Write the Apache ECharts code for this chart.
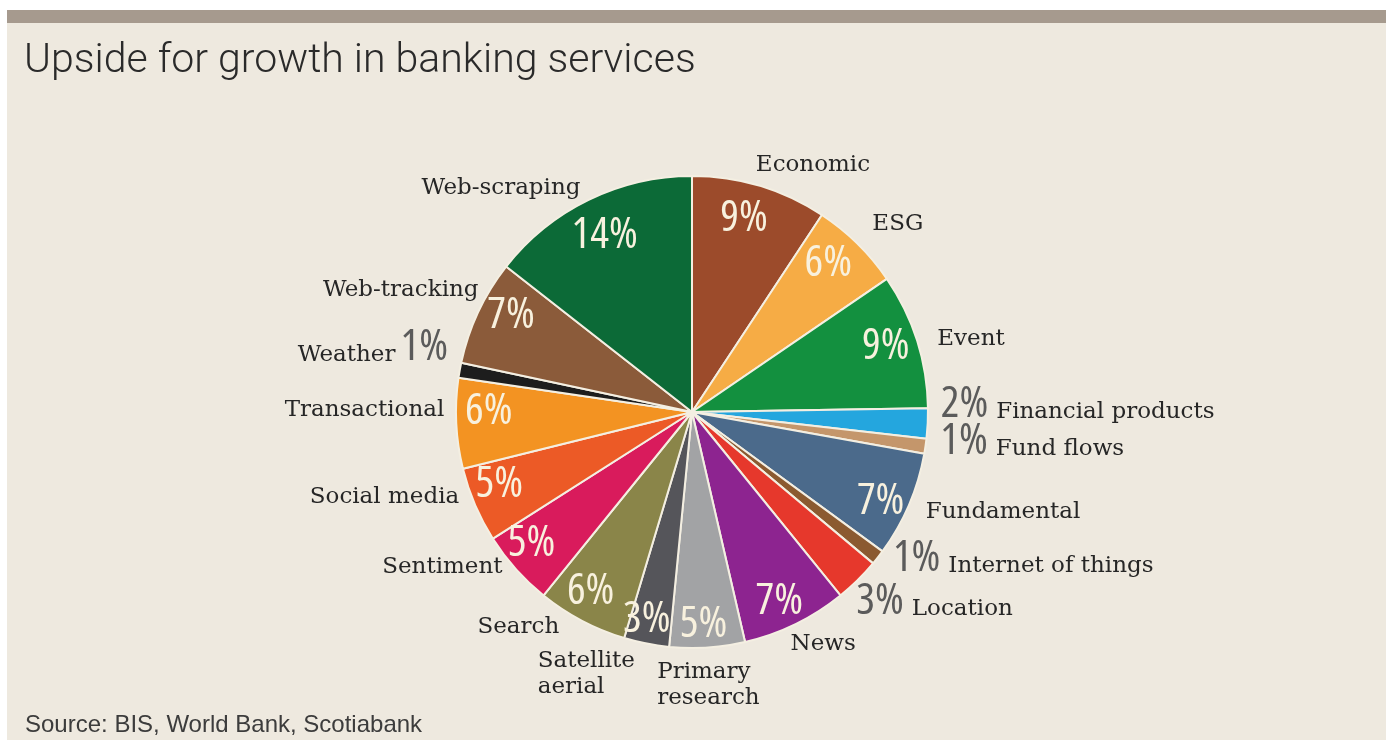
<!DOCTYPE html>
<html>
<head>
<meta charset="utf-8">
<script src="https://cdn.jsdelivr.net/npm/echarts@6/dist/echarts.min.js"></script>
<style>
  html, body { margin: 0; padding: 0; background: #ffffff; }
  #chart { width: 1389px; height: 740px; }
</style>
</head>
<body>
<div id="chart"></div>
<script>
// Data sources and their share of the upside, clockwise from 12 o'clock
const categories = [
  'Economic', 'ESG', 'Event', 'Financial products', 'Fund flows', 'Fundamental',
  'Internet of things', 'Location', 'News', 'Primary research', 'Satellite aerial',
  'Search', 'Sentiment', 'Social media', 'Transactional', 'Weather', 'Web-tracking',
  'Web-scraping'
];
const shares = [9, 6, 9, 2, 1, 7, 1, 3, 7, 5, 3, 6, 5, 5, 6, 1, 7, 14];

// Slice colours, same order as the categories
const sliceColors = [
  '#9c4b2b', '#f6ac45', '#13903f', '#24a6de', '#c4966b', '#4b6a8b',
  '#8b5a30', '#e6382c', '#8d2490', '#a2a3a5', '#55555a',
  '#8a8549', '#d91b5c', '#ec5a26', '#f39322', '#1d1d1d', '#8b5b3a',
  '#0c6a37'
];

// Thin slices whose share is written outside the pie, next to the name
const outsideShare = ['Financial products', 'Fund flows', 'Internet of things', 'Location', 'Weather'];
// Names set on two lines
const nameText = { 'Primary research': 'Primary\nresearch', 'Satellite aerial': 'Satellite\naerial' };

// Small label adjustments (px) for the outer name labels
const nameNudge = {
  'Economic': [-13, -8], 'ESG': [0, -10], 'Event': [2, 3], 'Financial products': [-6, -16],
  'Fund flows': [-4, -3], 'Fundamental': [-1, 2], 'Internet of things': [-1, -4],
  'Location': [-16, 15], 'News': [-16, 7], 'Primary research': [-56, 24],
  'Satellite aerial': [-101, 17], 'Search': [-11, -6], 'Sentiment': [2, -11],
  'Social media': [2, -13], 'Transactional': [7, -14], 'Weather': [7, -16],
  'Web-tracking': [18, -16], 'Web-scraping': [3, 1]
};
// Small label adjustments (px) for the share labels inside the slices
const shareNudge = {
  'Economic': [-8, 6], 'ESG': [-10, 0], 'Event': [-5, -2], 'Fundamental': [-3, 7],
  'News': [-4, 2], 'Primary research': [-2, 4], 'Satellite aerial': [-5, 3],
  'Search': [-4, -5], 'Sentiment': [-5, -7], 'Social media': [-1, -10],
  'Transactional': [5, -11], 'Web-tracking': [8, -8], 'Web-scraping': [4, 11]
};

const CX = 692, CY = 412, R = 236;
const serif = "'DejaVu Serif', 'Liberation Serif', serif";
// condensed cut of Open Sans for the percentages
const narrow = "'Open Sans', 'DejaVu Sans Condensed', sans-serif";

const total = shares.reduce((a, b) => a + b, 0);
let acc = 0;
const onLeft = shares.map(v => { const mid = acc + v / 2; acc += v; return mid / total > 0.5; });

const sliceData = categories.map((name, i) => ({
  name: name,
  value: shares[i],
  itemStyle: { color: sliceColors[i] }
}));

const shareData = categories.map((name, i) => ({
  name: name,
  value: shares[i],
  label: { show: outsideShare.indexOf(name) < 0 }
}));

const chart = echarts.init(document.getElementById('chart'), null, { renderer: 'canvas' });

chart.setOption({
  backgroundColor: '#ffffff',
  animation: false,
  graphic: [
    { type: 'rect', z: -10, silent: true, shape: { x: 7, y: 23, width: 1379, height: 717 }, style: { fill: '#eee9df' } },
    { type: 'rect', z: -10, silent: true, shape: { x: 7, y: 10, width: 1379, height: 13 }, style: { fill: '#a69a8e' } }
  ],
  title: [
    {
      text: 'Upside for growth in banking services',
      left: 19, top: 36,
      textStyle: { fontFamily: 'Roboto', fontWeight: 300, fontSize: 41, color: '#2a2a2a' }
    },
    {
      text: 'Source: BIS, World Bank, Scotiabank',
      left: 20, top: 708,
      textStyle: { fontFamily: "'Liberation Sans', sans-serif", fontWeight: 'normal', fontSize: 24, color: '#3c3c3c' }
    }
  ],
  series: [
    {
      // the slices, with their names outside
      type: 'pie',
      name: 'slices',
      center: [CX, CY],
      radius: [0, R],
      startAngle: 90,
      clockwise: true,
      avoidLabelOverlap: false,
      emphasis: { disabled: true },
      silent: true,
      itemStyle: { borderColor: '#f4efe2', borderWidth: 2 },
      labelLine: { show: false, length: 14, length2: 0 },
      label: {
        show: true,
        position: 'outside',
        distanceToLabelLine: 5,
        fontFamily: serif,
        fontSize: 23,
        lineHeight: 26,
        color: '#262626',
        formatter: function (p) {
          const n = p.name;
          const txt = nameText[n] || n;
          if (outsideShare.indexOf(n) >= 0) {
            return onLeft[p.dataIndex]
              ? '{n|' + txt + '}{pl|' + p.value + '%}'
              : '{pr|' + p.value + '%}{n|' + txt + '}';
          }
          return txt;
        },
        rich: {
          n: { fontFamily: serif, fontSize: 23, color: '#262626', verticalAlign: 'bottom', lineHeight: 36, padding: [0, 0, 3, 0] },
          pr: { fontFamily: narrow, fontStyle: 'condensed', fontSize: 44, color: '#5b5b5b', verticalAlign: 'bottom', lineHeight: 36, padding: [0, 8, 0, 0] },
          pl: { fontFamily: narrow, fontStyle: 'condensed', fontSize: 44, color: '#5b5b5b', verticalAlign: 'bottom', lineHeight: 36, padding: [0, 0, 0, 5] }
        }
      },
      labelLayout: function (p) {
        const n = categories[p.dataIndex];
        const d = nameNudge[n] || [0, 0];
        const out = { dx: d[0], dy: d[1] };
        if (n === 'Satellite aerial') out.align = 'left';
        return out;
      },
      data: sliceData
    },
    {
      // share labels, set in the outer band of each slice
      type: 'pie',
      name: 'shares',
      center: [CX, CY],
      radius: [175, R],
      startAngle: 90,
      clockwise: true,
      avoidLabelOverlap: false,
      emphasis: { disabled: true },
      silent: true,
      z: 3,
      itemStyle: { color: 'rgba(0,0,0,0)', borderWidth: 0 },
      labelLine: { show: false },
      label: {
        show: true,
        position: 'inside',
        formatter: '{c}%',
        fontFamily: narrow,
        fontStyle: 'condensed',
        fontSize: 44,
        color: '#f8f1de',
        textBorderWidth: 0
      },
      labelLayout: function (p) {
        const d = shareNudge[categories[p.dataIndex]] || [0, 0];
        return { dx: d[0], dy: d[1] };
      },
      data: shareData
    }
  ]
});
</script>
</body>
</html>
